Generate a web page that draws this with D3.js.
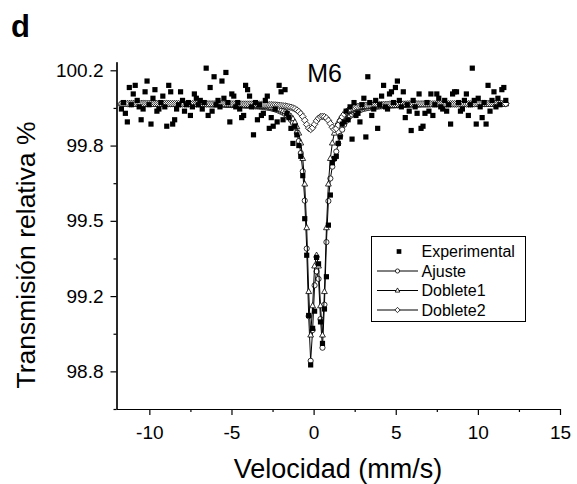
<!DOCTYPE html>
<html>
<head>
<meta charset="utf-8">
<title>M6 Mossbauer</title>
<script src="https://d3js.org/d3.v7.min.js"></script>
<style>
body { margin: 0; background: #fff; }
text { font-family: "Liberation Sans", Arial, sans-serif; fill: #000; }
</style>
</head>
<body>
<svg id="chart" width="577" height="484"></svg>
<script>
// velocity channels (mm/s)
var velocity = [
  -11.70,-11.58,-11.46,-11.34,-11.22,-11.10,-10.98,-10.86,-10.74,-10.62,
  -10.50,-10.38,-10.26,-10.14,-10.02,-9.90,-9.78,-9.66,-9.54,-9.42,
  -9.30,-9.18,-9.06,-8.94,-8.82,-8.70,-8.58,-8.46,-8.34,-8.22,
  -8.10,-7.98,-7.86,-7.74,-7.62,-7.50,-7.38,-7.26,-7.14,-7.02,
  -6.90,-6.78,-6.66,-6.54,-6.42,-6.30,-6.18,-6.06,-5.94,-5.82,
  -5.70,-5.58,-5.46,-5.34,-5.22,-5.10,-4.98,-4.86,-4.74,-4.62,
  -4.50,-4.38,-4.26,-4.14,-4.02,-3.90,-3.78,-3.66,-3.54,-3.42,
  -3.30,-3.18,-3.06,-2.94,-2.82,-2.70,-2.58,-2.46,-2.34,-2.22,
  -2.10,-1.98,-1.86,-1.74,-1.62,-1.50,-1.38,-1.26,-1.14,-1.02,
  -0.90,-0.78,-0.66,-0.54,-0.42,-0.30,-0.18,-0.06,0.06,0.18,
  0.30,0.42,0.54,0.66,0.78,0.90,1.02,1.14,1.26,1.38,
  1.50,1.62,1.74,1.86,1.98,2.10,2.22,2.34,2.46,2.58,
  2.70,2.82,2.94,3.06,3.18,3.30,3.42,3.54,3.66,3.78,
  3.90,4.02,4.14,4.26,4.38,4.50,4.62,4.74,4.86,4.98,
  5.10,5.22,5.34,5.46,5.58,5.70,5.82,5.94,6.06,6.18,
  6.30,6.42,6.54,6.66,6.78,6.90,7.02,7.14,7.26,7.38,
  7.50,7.62,7.74,7.86,7.98,8.10,8.22,8.34,8.46,8.58,
  8.70,8.82,8.94,9.06,9.18,9.30,9.42,9.54,9.66,9.78,
  9.90,10.02,10.14,10.26,10.38,10.50,10.62,10.74,10.86,10.98,
  11.10,11.22,11.34,11.46,11.58,11.70
];

// measured transmission (%)
var experimental = [
  100.02,100.05,100.00,99.96,100.12,100.04,100.09,100.13,100.06,100.03,
  99.97,100.02,100.10,100.15,100.04,99.95,100.07,100.11,100.01,100.02,
  100.05,100.08,100.03,99.94,100.13,100.10,99.95,99.97,100.02,100.04,
  100.10,100.06,100.01,100.04,100.05,99.99,100.03,100.09,100.07,100.04,
  100.06,100.02,100.05,100.21,99.99,100.12,100.01,100.17,100.04,100.06,
  100.03,100.15,100.07,100.19,100.05,99.96,100.09,100.08,100.03,100.05,
  100.02,99.98,99.99,100.13,100.11,100.08,100.03,99.90,100.05,99.97,
  100.04,99.99,100.00,100.06,100.08,99.93,99.98,99.94,100.02,99.96,
  100.13,100.10,99.97,100.11,100.00,99.98,99.93,99.86,99.94,99.90,
  99.85,99.80,99.71,99.51,99.34,99.06,98.83,99.00,99.08,99.33,
  99.30,99.03,98.93,99.09,99.24,99.48,99.62,99.77,99.79,99.80,
  99.86,99.89,99.95,99.96,100.01,99.97,100.03,99.88,100.05,99.99,
  100.00,99.96,100.04,100.07,99.89,100.17,100.05,99.99,100.02,100.06,
  99.93,100.04,100.08,100.13,100.03,100.02,100.09,100.10,100.05,100.12,
  100.15,100.06,100.03,100.10,99.98,100.04,100.01,99.92,100.06,100.03,
  100.00,100.09,99.93,99.94,100.00,100.05,100.01,100.09,99.99,100.04,
  100.09,100.07,100.03,100.02,100.06,100.01,100.04,99.95,100.09,100.10,
  100.10,100.05,100.01,100.02,100.06,100.09,99.99,100.04,100.21,100.06,
  99.95,100.07,100.03,99.98,100.05,99.95,100.13,100.01,100.06,100.10,
  100.03,100.07,100.04,100.11,100.12,100.06
];

// total fit
var ajuste = [
  100.044,100.044,100.044,100.044,100.044,100.044,100.044,100.044,100.044,100.044,
  100.044,100.044,100.044,100.044,100.044,100.043,100.043,100.043,100.043,100.043,
  100.043,100.043,100.043,100.043,100.043,100.043,100.043,100.043,100.043,100.043,
  100.043,100.043,100.043,100.043,100.043,100.042,100.042,100.042,100.042,100.042,
  100.042,100.042,100.042,100.042,100.042,100.041,100.041,100.041,100.041,100.041,
  100.040,100.040,100.040,100.039,100.039,100.039,100.038,100.038,100.037,100.037,
  100.037,100.036,100.036,100.035,100.035,100.035,100.034,100.033,100.032,100.032,
  100.031,100.030,100.029,100.028,100.026,100.025,100.023,100.021,100.018,100.015,
  100.011,100.007,100.003,99.997,99.990,99.981,99.969,99.955,99.935,99.908,
  99.871,99.815,99.730,99.594,99.371,99.057,98.849,98.992,99.200,99.265,
  99.230,99.043,98.910,99.110,99.401,99.592,99.697,99.752,99.788,99.822,
  99.859,99.895,99.924,99.947,99.964,99.977,99.987,99.995,100.002,100.007,
  100.011,100.015,100.018,100.021,100.023,100.025,100.026,100.028,100.029,100.030,
  100.031,100.032,100.033,100.034,100.034,100.035,100.035,100.036,100.036,100.037,
  100.037,100.038,100.038,100.038,100.039,100.039,100.039,100.040,100.040,100.040,
  100.040,100.040,100.041,100.041,100.041,100.041,100.041,100.042,100.042,100.042,
  100.042,100.042,100.042,100.042,100.042,100.042,100.042,100.042,100.042,100.042,
  100.042,100.042,100.042,100.042,100.042,100.043,100.043,100.043,100.043,100.043,
  100.043,100.043,100.043,100.043,100.043,100.043,100.043,100.043,100.043,100.043,
  100.044,100.044,100.044,100.044,100.044,100.044
];

// first doublet
var doblete1 = [
  100.044,100.044,100.044,100.044,100.044,100.044,100.044,100.044,100.044,100.044,
  100.044,100.044,100.044,100.044,100.044,100.044,100.044,100.044,100.044,100.044,
  100.044,100.044,100.044,100.044,100.044,100.043,100.043,100.043,100.043,100.043,
  100.043,100.043,100.043,100.043,100.043,100.043,100.043,100.043,100.042,100.042,
  100.042,100.042,100.042,100.042,100.042,100.042,100.041,100.041,100.041,100.041,
  100.041,100.041,100.041,100.040,100.040,100.040,100.040,100.039,100.039,100.039,
  100.039,100.038,100.038,100.038,100.037,100.037,100.036,100.036,100.035,100.035,
  100.034,100.034,100.033,100.032,100.031,100.030,100.028,100.026,100.024,100.022,
  100.019,100.016,100.012,100.008,100.002,99.995,99.986,99.975,99.959,99.938,
  99.908,99.862,99.790,99.671,99.468,99.171,98.969,99.105,99.290,99.340,
  99.290,99.105,98.969,99.171,99.468,99.671,99.790,99.862,99.908,99.938,
  99.959,99.975,99.986,99.995,100.002,100.008,100.012,100.016,100.019,100.022,
  100.024,100.026,100.028,100.030,100.031,100.032,100.033,100.034,100.034,100.035,
  100.035,100.036,100.036,100.037,100.037,100.038,100.038,100.038,100.039,100.039,
  100.039,100.040,100.040,100.040,100.040,100.041,100.041,100.041,100.041,100.041,
  100.042,100.042,100.042,100.042,100.042,100.042,100.042,100.042,100.042,100.042,
  100.043,100.043,100.043,100.043,100.043,100.043,100.043,100.043,100.043,100.043,
  100.043,100.043,100.043,100.043,100.043,100.043,100.043,100.043,100.043,100.043,
  100.044,100.044,100.044,100.044,100.044,100.044,100.044,100.044,100.044,100.044,
  100.044,100.044,100.044,100.044,100.044,100.044
];

// second doublet
var doblete2 = [
  100.045,100.045,100.045,100.045,100.045,100.045,100.045,100.045,100.045,100.045,
  100.045,100.045,100.045,100.045,100.045,100.045,100.045,100.045,100.045,100.045,
  100.045,100.045,100.045,100.045,100.045,100.045,100.045,100.045,100.045,100.045,
  100.044,100.044,100.044,100.044,100.044,100.044,100.044,100.044,100.044,100.044,
  100.044,100.044,100.044,100.044,100.044,100.044,100.044,100.044,100.044,100.044,
  100.044,100.044,100.044,100.044,100.044,100.044,100.044,100.044,100.044,100.044,
  100.043,100.043,100.043,100.043,100.043,100.043,100.043,100.043,100.043,100.043,
  100.042,100.041,100.041,100.041,100.041,100.040,100.040,100.039,100.039,100.038,
  100.037,100.036,100.035,100.034,100.032,100.030,100.028,100.025,100.021,100.015,
  100.008,99.998,99.985,99.968,99.948,99.931,99.925,99.933,99.949,99.965,
  99.977,99.984,99.986,99.984,99.978,99.967,99.952,99.935,99.925,99.929,
  99.945,99.965,99.983,99.996,100.007,100.014,100.020,100.024,100.027,100.030,
  100.032,100.034,100.035,100.036,100.037,100.038,100.039,100.039,100.040,100.040,
  100.040,100.041,100.041,100.041,100.041,100.042,100.042,100.042,100.042,100.042,
  100.043,100.043,100.043,100.043,100.043,100.044,100.044,100.044,100.044,100.044,
  100.044,100.044,100.044,100.044,100.044,100.044,100.044,100.044,100.044,100.044,
  100.044,100.044,100.044,100.044,100.044,100.044,100.044,100.044,100.044,100.044,
  100.044,100.044,100.044,100.044,100.044,100.044,100.044,100.044,100.044,100.044,
  100.045,100.045,100.045,100.045,100.045,100.045,100.045,100.045,100.045,100.045,
  100.045,100.045,100.045,100.045,100.045,100.045
];

var xTicks = [-10, -5, 0, 5, 10, 15];
var xMinorTicks = [-7.5, -2.5, 2.5, 7.5, 12.5];
var yTicks = [98.8, 99.15, 99.5, 99.85, 100.2];
var yTickLabels = ["98.8", "99.2", "99.5", "99.8", "100.2"];
var yMinorTicks = [98.625, 98.975, 99.325, 99.675, 100.025];
var legendLabels = ["Experimental", "Ajuste", "Doblete1", "Doblete2"];

var svg = d3.select("#chart");

var x = d3.scaleLinear().domain([-12, 15]).range([116.5, 560]);
var y = d3.scaleLinear().domain([98.625, 100.24]).range([409, 61.7]);

// marker shapes
var shapes = {
  square: "M-2.6,-2.6H2.6V2.6H-2.6Z",
  circle: "M2.6,0A2.6,2.6 0 1,1 -2.6,0A2.6,2.6 0 1,1 2.6,0Z",
  triangle: "M0,-3.2L2.9,2L-2.9,2Z",
  diamond: "M0,-3.3L3.3,0L0,3.3L-3.3,0Z"
};

// axes (plain hyphen for negatives, like the original)
svg.append("g")
  .attr("transform", "translate(0,409)")
  .call(d3.axisBottom(x).tickValues(xTicks).tickSize(6).tickSizeOuter(0).tickPadding(11)
    .tickFormat(function (d) { return String(d); }));
svg.append("g")
  .attr("transform", "translate(0,409)")
  .call(d3.axisBottom(x).tickValues(xMinorTicks).tickSize(3).tickSizeOuter(0).tickFormat(""));

svg.append("g")
  .attr("transform", "translate(116.5,0)")
  .call(d3.axisLeft(y).tickValues(yTicks).tickSize(6).tickSizeOuter(0).tickPadding(7)
    .tickFormat(function (d, i) { return yTickLabels[i]; }));
svg.append("g")
  .attr("transform", "translate(116.5,0)")
  .call(d3.axisLeft(y).tickValues(yMinorTicks).tickSize(3).tickSizeOuter(0).tickFormat(""));

svg.selectAll(".domain").attr("stroke", "#000").attr("stroke-width", 1.2);
svg.selectAll(".tick line").attr("stroke", "#000").attr("stroke-width", 1.2);
svg.selectAll(".tick text")
  .style("font-family", "'Liberation Sans', Arial, sans-serif")
  .style("font-size", "19px")
  .attr("fill", "#000");

// fitted curves
var line = d3.line()
  .x(function (d) { return x(d[0]); })
  .y(function (d) { return y(d[1]); });

function pairs(vals) {
  return velocity.map(function (v, i) { return [v, vals[i]]; });
}

var curves = [
  { vals: ajuste, shape: "circle" },
  { vals: doblete1, shape: "triangle" },
  { vals: doblete2, shape: "diamond" }
];

curves.forEach(function (c) {
  var pts = pairs(c.vals);
  svg.append("path")
    .datum(pts)
    .attr("d", line)
    .attr("fill", "none")
    .attr("stroke", "#000")
    .attr("stroke-width", 1);
  svg.append("g").selectAll("path")
    .data(pts)
    .enter().append("path")
    .attr("d", shapes[c.shape])
    .attr("transform", function (d) { return "translate(" + x(d[0]) + "," + y(d[1]) + ")"; })
    .attr("fill", "#fff")
    .attr("stroke", "#000")
    .attr("stroke-width", 0.8);
});

// experimental points
svg.append("g").selectAll("path")
  .data(pairs(experimental))
  .enter().append("path")
  .attr("d", shapes.square)
  .attr("transform", function (d) { return "translate(" + x(d[0]) + "," + y(d[1]) + ")"; })
  .attr("fill", "#000");

// titles
svg.append("text")
  .attr("x", 11).attr("y", 37)
  .style("font-size", "31px").style("font-weight", "bold")
  .text("d");

svg.append("text")
  .attr("x", 324.5).attr("y", 81.5)
  .attr("text-anchor", "middle")
  .style("font-size", "25px")
  .text("M6");

svg.append("text")
  .attr("x", 338).attr("y", 478)
  .attr("text-anchor", "middle")
  .style("font-size", "27px")
  .text("Velocidad (mm/s)");

svg.append("text")
  .attr("transform", "translate(35,255) rotate(-90)")
  .attr("text-anchor", "middle")
  .style("font-size", "26.5px")
  .text("Transmisión relativa %");

// legend
var legend = svg.append("g");
legend.append("rect")
  .attr("x", 371.5).attr("y", 236.5)
  .attr("width", 154).attr("height", 85)
  .attr("fill", "#fff").attr("stroke", "#000").attr("stroke-width", 1);

var legendRowY = d3.scalePoint().domain(legendLabels).range([251.5, 310]);
var legendShapes = ["square", "circle", "triangle", "diamond"];

legendLabels.forEach(function (lab, i) {
  var cy = legendRowY(lab);
  if (i > 0) {
    legend.append("line")
      .attr("x1", 377).attr("x2", 418)
      .attr("y1", cy).attr("y2", cy)
      .attr("stroke", "#000").attr("stroke-width", 1);
    legend.append("path")
      .attr("d", shapes[legendShapes[i]])
      .attr("transform", "translate(397.5," + cy + ") scale(0.8)")
      .attr("fill", "#fff").attr("stroke", "#000").attr("stroke-width", 1);
  } else {
    legend.append("path")
      .attr("d", shapes.square)
      .attr("transform", "translate(399," + cy + ") scale(0.9)")
      .attr("fill", "#000");
  }
  legend.append("text")
    .attr("x", 421.5).attr("y", cy)
    .attr("dy", "0.35em")
    .style("font-size", "16px")
    .text(lab);
});
</script>
</body>
</html>
